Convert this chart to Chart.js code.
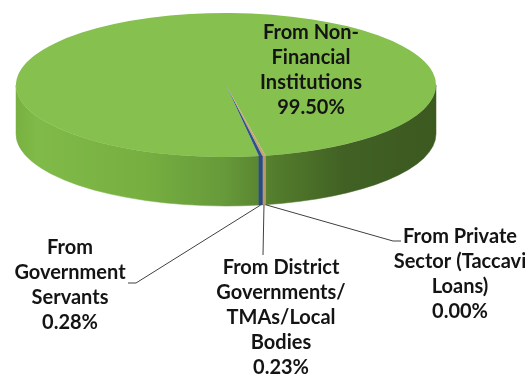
<!DOCTYPE html>
<html>
<head>
<meta charset="utf-8">
<script src="https://cdn.jsdelivr.net/npm/chart.js@4.4.1/dist/chart.umd.min.js"></script>
<style>
  html, body { margin: 0; padding: 0; background: #ffffff; overflow: hidden; }
  #wrap { width: 525px; height: 377px; }
</style>
</head>
<body>
<div id="wrap"><canvas id="c" width="525" height="377"></canvas></div>
<script>
// Sources of loans, share of total (%)
const categories = [
  'From Non-Financial Institutions',
  'From Private Sector (Taccavi Loans)',
  'From District Governments/TMAs/Local Bodies',
  'From Government Servants'
];
const shares = [99.50, 0.00, 0.23, 0.28];
// Category names wrapped onto lines for the slice labels
const labelLines = [
  ['From Non-', 'Financial', 'Institutions'],
  ['From Private', 'Sector (Taccavi', 'Loans)'],
  ['From District', 'Governments/', 'TMAs/Local', 'Bodies'],
  ['From', 'Government', 'Servants']
];

// Slice colours: top face and outer wall
const topColors  = ['#86C04E', '#A5A5A5', '#C9A56F', '#2E5187'];
const wallColors = [null, '#8C8C8C', '#B89A6A', '#2B4C7E'];

// Tilted disc geometry (screen px)
const disc = { cx: 226, cy: 85, rx: 210, ry: 72, depth: 49 };

// Label blocks (first line centre) and leader-line bends
const labelLayout = [
  { x: 311, y: 33,  leader: null },
  { x: 460, y: 237, leader: [[393, 241], [401, 241]] },
  { x: 281, y: 268, leader: [[263, 255]] },
  { x: 70,  y: 248, leader: [[136, 283], [128, 283]] }
];
const LINE_H = 25;
const FONT = 'bold 20px Lato, "Liberation Sans", sans-serif';

function wallGradient(ctx) {
  const g = ctx.createLinearGradient(disc.cx - disc.rx, 0, disc.cx + disc.rx, 0);
  g.addColorStop(0.00, '#78B141');
  g.addColorStop(0.05, '#80BA48');
  g.addColorStop(0.30, '#77B041');
  g.addColorStop(0.50, '#66993A');
  g.addColorStop(0.62, '#537C2C');
  g.addColorStop(0.78, '#416124');
  g.addColorStop(1.00, '#3C5920');
  return g;
}

function drawWall(ctx, a1, a2, fill) {
  const { cx, cy, rx, ry, depth } = disc;
  ctx.beginPath();
  ctx.ellipse(cx, cy, rx, ry, 0, a1, a2, false);
  ctx.ellipse(cx, cy + depth, rx, ry, 0, a2, a1, true);
  ctx.closePath();
  ctx.fillStyle = fill;
  ctx.fill();
  ctx.strokeStyle = fill;
  ctx.lineWidth = 0.5;
  ctx.stroke();
}

const tiltedPie = {
  id: 'tiltedPie',
  beforeDatasetsDraw(chart) {
    const ctx = chart.ctx;
    const arcs = chart.getDatasetMeta(0).data;
    const grad = wallGradient(ctx);
    // outer walls of the front half of the disc
    arcs.forEach((arc, i) => {
      const { startAngle, endAngle } = arc.getProps(['startAngle', 'endAngle'], true);
      if (endAngle - startAngle <= 0) return;
      for (let k = -2; k <= 2; k++) {
        const base = k * 2 * Math.PI;
        const a1 = Math.max(startAngle, base);
        const a2 = Math.min(endAngle, base + Math.PI);
        if (a2 > a1) drawWall(ctx, a1 - base, a2 - base, i === 0 ? grad : wallColors[i]);
      }
    });
    // squash the round pie onto the tilted top face
    const a0 = arcs[0];
    const r = a0.outerRadius;
    ctx.save();
    ctx.translate(disc.cx, disc.cy);
    ctx.scale(disc.rx / r, disc.ry / r);
    ctx.translate(-a0.x, -a0.y);
  },
  afterDatasetsDraw(chart) {
    chart.ctx.restore();
  },
  afterDraw(chart) {
    const ctx = chart.ctx;
    const arcs = chart.getDatasetMeta(0).data;
    ctx.save();
    // leader lines from the bottom rim of each slice
    ctx.strokeStyle = '#404040';
    ctx.lineWidth = 1;
    arcs.forEach((arc, i) => {
      const lay = labelLayout[i];
      if (!lay.leader) return;
      const { startAngle, endAngle } = arc.getProps(['startAngle', 'endAngle'], true);
      const mid = (startAngle + endAngle) / 2;
      const sx = disc.cx + disc.rx * Math.cos(mid);
      const sy = disc.cy + disc.depth + disc.ry * Math.sin(mid);
      ctx.beginPath();
      ctx.moveTo(sx, sy);
      lay.leader.forEach(p => ctx.lineTo(p[0], p[1]));
      ctx.stroke();
    });
    // slice labels: name and share
    ctx.font = FONT;
    ctx.fillStyle = '#141414';
    ctx.textAlign = 'center';
    ctx.textBaseline = 'middle';
    shares.forEach((v, i) => {
      const lay = labelLayout[i];
      const lines = labelLines[i].concat([v.toFixed(2) + '%']);
      lines.forEach((t, j) => ctx.fillText(t, lay.x, lay.y + j * LINE_H));
    });
    ctx.restore();
  }
};

new Chart(document.getElementById('c'), {
  type: 'pie',
  data: {
    labels: categories,
    datasets: [{
      data: shares,
      backgroundColor: topColors,
      borderWidth: 0,
      clip: false
    }]
  },
  options: {
    responsive: false,
    animation: false,
    rotation: 171,
    events: [],
    layout: { padding: 0 },
    plugins: { legend: { display: false }, tooltip: { enabled: false } }
  },
  plugins: [tiltedPie]
});
</script>
</body>
</html>
